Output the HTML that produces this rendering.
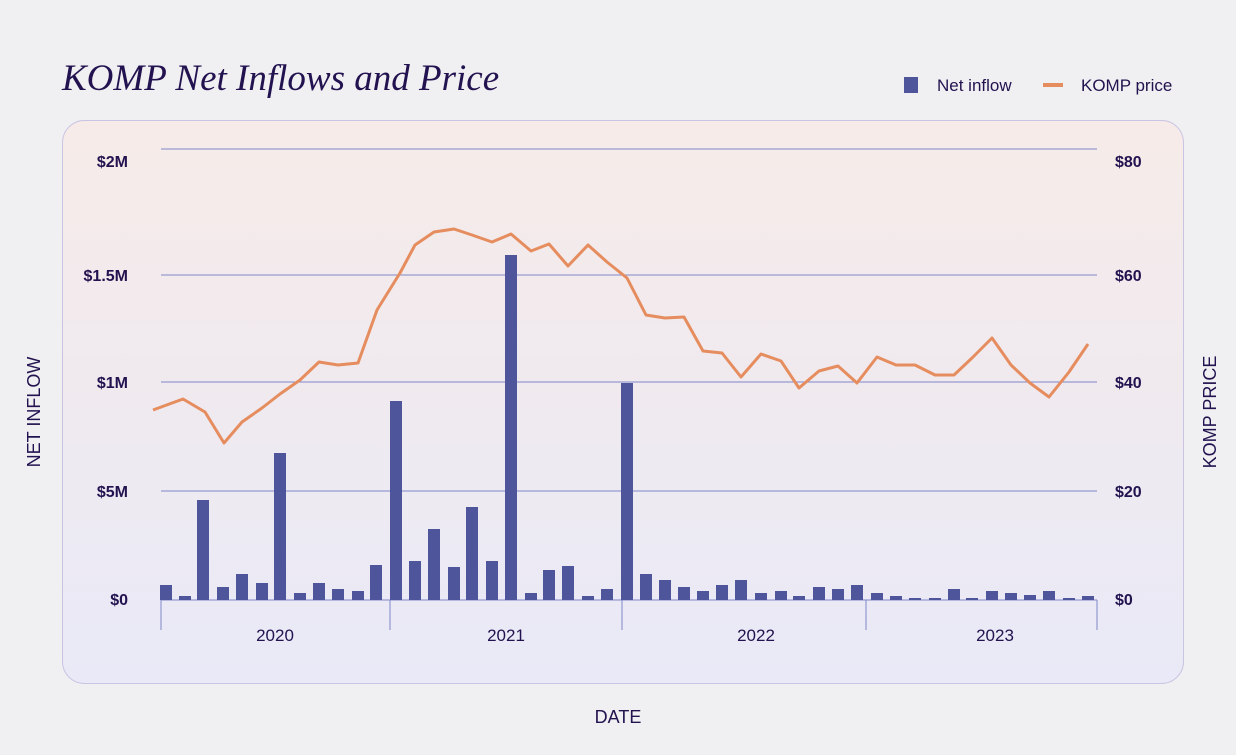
<!DOCTYPE html>
<html><head><meta charset="utf-8"><style>
html,body{margin:0;padding:0;background:#f0eff2;}
body{width:1236px;height:750px;overflow:hidden;}
</style></head><body>
<svg width="1236" height="750" viewBox="0 0 1236 750" xmlns="http://www.w3.org/2000/svg">
<defs>
<linearGradient id="g" x1="0" y1="0" x2="0" y2="1">
<stop offset="0" stop-color="#f6ebe8"/><stop offset="1" stop-color="#e9e9f7"/>
</linearGradient>
</defs>
<rect width="1236" height="750" fill="#f0eff2"/>
<text x="62" y="90" font-family="Liberation Serif, serif" font-style="italic" font-size="37" fill="#22124f">KOMP Net Inflows and Price</text>
<rect x="904" y="77" width="14" height="16" fill="#4e559a"/>
<text x="937" y="91" font-family="Liberation Sans, sans-serif" font-size="17" fill="#22124f">Net inflow</text>
<line x1="1043" y1="85" x2="1063" y2="85" stroke="#e68d5f" stroke-width="4"/>
<text x="1081" y="91" font-family="Liberation Sans, sans-serif" font-size="17" fill="#22124f">KOMP price</text>
<rect x="62.5" y="120.5" width="1121" height="563" rx="22" fill="url(#g)" stroke="#c9c4e2"/>
<g stroke="#7f87c9" stroke-width="1">
<line x1="161" y1="149" x2="1097" y2="149"/><line x1="161" y1="275" x2="1097" y2="275"/>
<line x1="161" y1="382" x2="1097" y2="382"/><line x1="161" y1="491" x2="1097" y2="491"/>
<line x1="161" y1="600" x2="1097" y2="600"/>
<line x1="161" y1="600" x2="161" y2="630"/><line x1="390" y1="600" x2="390" y2="630"/>
<line x1="622" y1="600" x2="622" y2="630"/><line x1="866" y1="600" x2="866" y2="630"/>
<line x1="1097" y1="600" x2="1097" y2="630"/>
</g>
<g font-family="Liberation Sans, sans-serif" font-weight="bold" font-size="16" fill="#22124f">
<text x="128" y="167" text-anchor="end">$2M</text><text x="128" y="281" text-anchor="end">$1.5M</text>
<text x="128" y="388" text-anchor="end">$1M</text><text x="128" y="497" text-anchor="end">$5M</text>
<text x="128" y="605" text-anchor="end">$0</text>
<text x="1115" y="167">$80</text><text x="1115" y="281">$60</text>
<text x="1115" y="388">$40</text><text x="1115" y="497">$20</text><text x="1115" y="605">$0</text>
</g>
<g font-family="Liberation Sans, sans-serif" font-size="17" fill="#22124f" text-anchor="middle">
<text x="275" y="641">2020</text><text x="506" y="641">2021</text>
<text x="756" y="641">2022</text><text x="995" y="641">2023</text>
<text x="618" y="723" font-size="18">DATE</text>
<text transform="translate(40,412) rotate(-90)" font-size="18">NET INFLOW</text>
<text transform="translate(1216,412) rotate(-90)" font-size="18">KOMP PRICE</text>
</g>
<g fill="#4e559a">
<rect x="160" y="585" width="12" height="15"/>
<rect x="179" y="596" width="12" height="4"/>
<rect x="197" y="500" width="12" height="100"/>
<rect x="217" y="587" width="12" height="13"/>
<rect x="236" y="574" width="12" height="26"/>
<rect x="256" y="583" width="12" height="17"/>
<rect x="274" y="453" width="12" height="147"/>
<rect x="294" y="593" width="12" height="7"/>
<rect x="313" y="583" width="12" height="17"/>
<rect x="332" y="589" width="12" height="11"/>
<rect x="352" y="591" width="12" height="9"/>
<rect x="370" y="565" width="12" height="35"/>
<rect x="390" y="401" width="12" height="199"/>
<rect x="409" y="561" width="12" height="39"/>
<rect x="428" y="529" width="12" height="71"/>
<rect x="448" y="567" width="12" height="33"/>
<rect x="466" y="507" width="12" height="93"/>
<rect x="486" y="561" width="12" height="39"/>
<rect x="505" y="255" width="12" height="345"/>
<rect x="525" y="593" width="12" height="7"/>
<rect x="543" y="570" width="12" height="30"/>
<rect x="562" y="566" width="12" height="34"/>
<rect x="582" y="596" width="12" height="4"/>
<rect x="601" y="589" width="12" height="11"/>
<rect x="621" y="383" width="12" height="217"/>
<rect x="640" y="574" width="12" height="26"/>
<rect x="659" y="580" width="12" height="20"/>
<rect x="678" y="587" width="12" height="13"/>
<rect x="697" y="591" width="12" height="9"/>
<rect x="716" y="585" width="12" height="15"/>
<rect x="735" y="580" width="12" height="20"/>
<rect x="755" y="593" width="12" height="7"/>
<rect x="775" y="591" width="12" height="9"/>
<rect x="793" y="596" width="12" height="4"/>
<rect x="813" y="587" width="12" height="13"/>
<rect x="832" y="589" width="12" height="11"/>
<rect x="851" y="585" width="12" height="15"/>
<rect x="871" y="593" width="12" height="7"/>
<rect x="890" y="596" width="12" height="4"/>
<rect x="909" y="598" width="12" height="2"/>
<rect x="929" y="598" width="12" height="2"/>
<rect x="948" y="589" width="12" height="11"/>
<rect x="966" y="598" width="12" height="2"/>
<rect x="986" y="591" width="12" height="9"/>
<rect x="1005" y="593" width="12" height="7"/>
<rect x="1024" y="595" width="12" height="5"/>
<rect x="1043" y="591" width="12" height="9"/>
<rect x="1063" y="598" width="12" height="2"/>
<rect x="1082" y="596" width="12" height="4"/>
</g>
<polyline fill="none" stroke="#e68d5f" stroke-width="3" stroke-linejoin="round" points="153,410 183,399 205,412 224,443 242,422 262,408 280,394 300,380 319,362 338,365 358,363 377,310 400,273 415,245 434,232 454,229 472,235 492,242 511,234 531,251 549,244 568,266 588,245 607,262 627,278 646,315 665,318 684,317 703,351 722,353 741,377 761,354 781,361 799,388 819,371 838,366 857,383 877,357 896,365 915,365 935,375 954,375 972,358 992,338 1011,365 1030,383 1049,397 1069,372 1088,344"/>
</svg>
</body></html>
